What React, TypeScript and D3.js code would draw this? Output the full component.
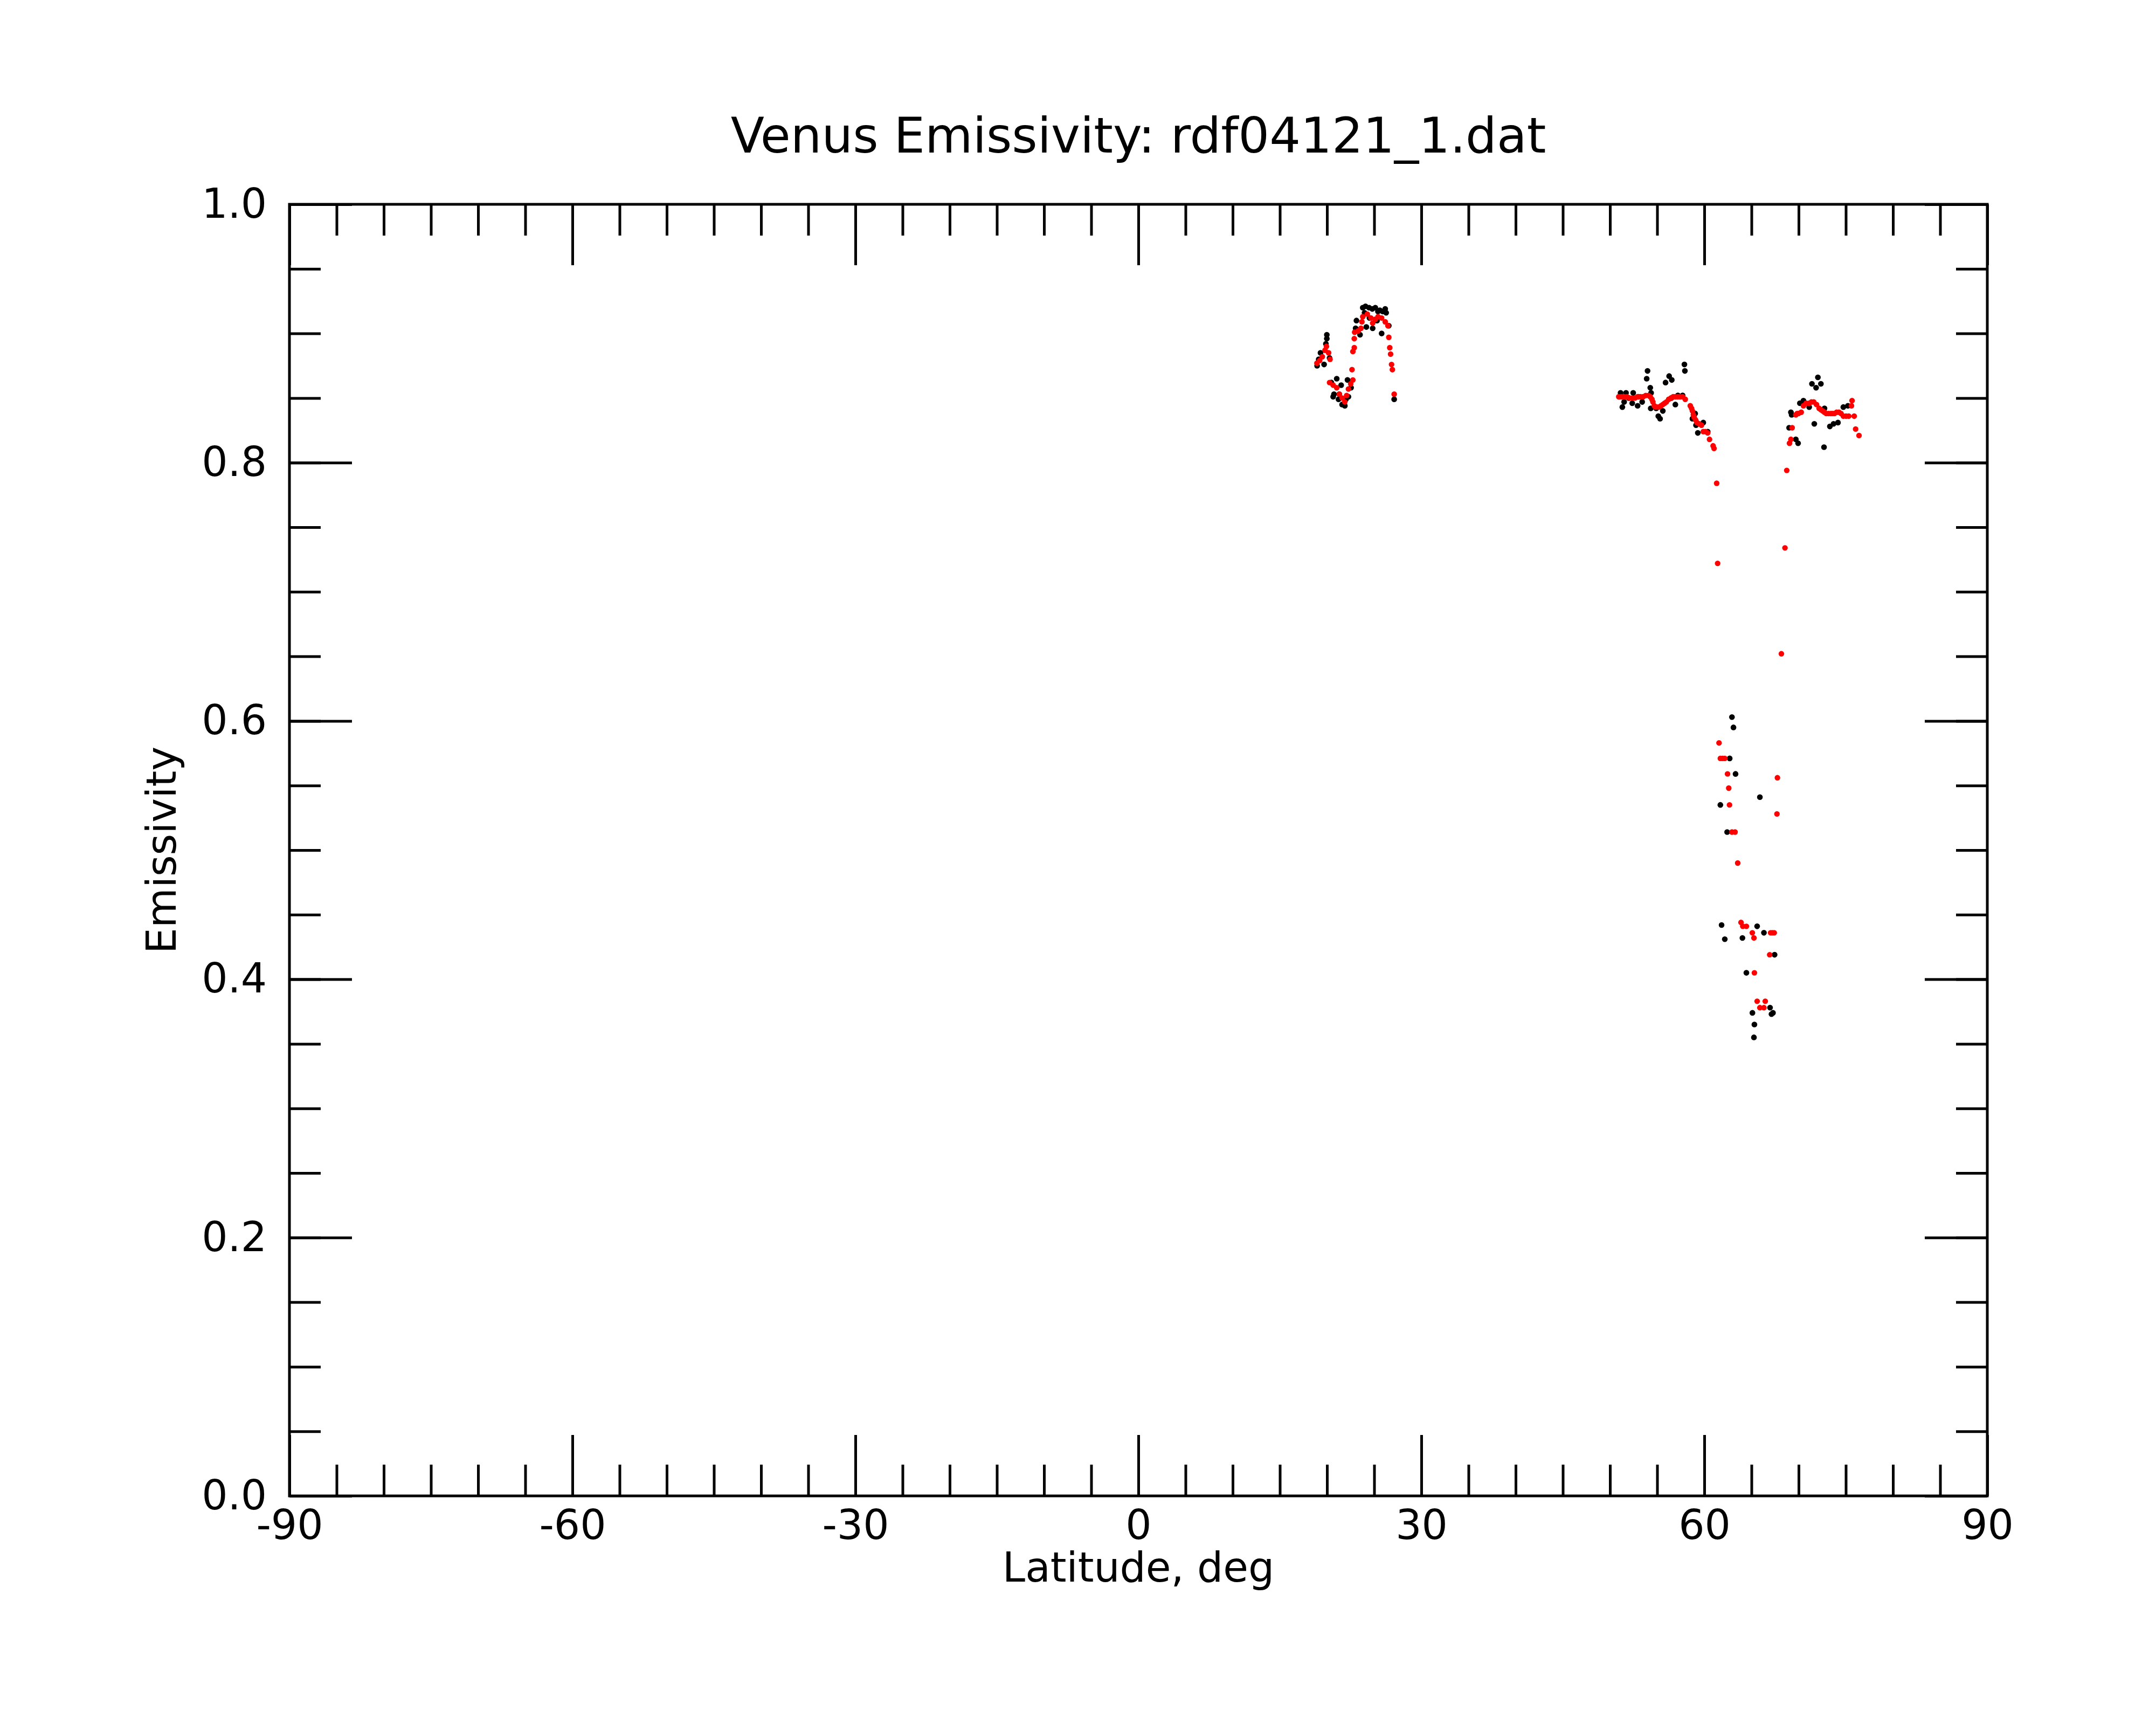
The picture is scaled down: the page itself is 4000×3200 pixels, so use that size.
import { useRef, useEffect } from 'react';
import * as d3 from 'd3';

// smoothed emissivity (red)
const fitLat = [
  18.93, 19.22, 19.5, 19.79, 19.94, 20.17, 20.32,
  20.27, 20.65, 21.03, 21.31, 21.6, 21.89, 22.08, 22.27, 22.51, 22.74,
  22.65, 22.74, 22.89, 22.89, 22.93, 23.31, 23.6, 23.7, 23.79, 24.27, 24.65, 24.84,
  25.12, 25.41, 25.79, 26.17, 26.46, 26.55, 26.65, 26.74, 26.84, 26.93, 27.12,
  50.93, 51.21, 51.5, 51.79, 52.08, 52.36, 52.65, 52.93, 53.22, 53.51, 53.79, 54.08,
  54.27, 54.45, 54.55, 54.7, 54.84, 55.03, 55.22, 55.41, 55.6, 55.79, 55.98, 56.22,
  56.46, 56.7, 56.93, 57.17, 57.41, 57.7, 57.98, 58.51, 58.65, 58.74, 58.84, 58.93,
  59.08, 59.22, 59.46, 59.7, 59.89, 60.12, 60.36, 60.55, 60.93, 61.03, 61.31, 61.41,
  61.56, 61.7, 61.93, 62.17, 62.46, 62.59, 62.67, 62.93, 63.26, 63.54,
  63.89, 64.08, 64.46, 65.09, 65.26, 65.31, 65.6, 65.89, 66.32, 66.46, 66.93,
  67.03, 67.22, 67.41, 67.7, 67.75, 68.17, 68.55, 68.74,
  69.03, 69.18, 69.31, 69.7, 69.84, 69.98, 70.27, 70.51, 70.8, 71.12, 71.36, 71.6,
  71.89, 72.17, 72.36, 72.55, 72.74, 72.93, 73.17, 73.41, 73.6, 73.79, 74.03, 74.27,
  74.5, 74.74, 75.03, 75.31, 75.6, 75.66, 75.89, 76.04, 76.4,
];
const fitEmis = [
  0.877, 0.879, 0.882, 0.887, 0.89, 0.885, 0.88,
  0.862, 0.86, 0.858, 0.853, 0.85, 0.847, 0.852, 0.857, 0.861, 0.864,
  0.872, 0.886, 0.889, 0.896, 0.901, 0.902, 0.904, 0.909, 0.913, 0.915, 0.912, 0.908,
  0.911, 0.913, 0.912, 0.909, 0.906, 0.897, 0.889, 0.884, 0.876, 0.872, 0.853,
  0.851, 0.851, 0.851, 0.851, 0.85, 0.85, 0.85, 0.851, 0.851, 0.851, 0.852, 0.852,
  0.851, 0.849, 0.847, 0.844, 0.843, 0.843, 0.843, 0.844, 0.845, 0.846, 0.847, 0.849,
  0.85, 0.851, 0.851, 0.851, 0.851, 0.851, 0.849, 0.844, 0.842, 0.84, 0.837, 0.835,
  0.833, 0.831, 0.83, 0.829, 0.824, 0.824, 0.823, 0.818, 0.813, 0.811, 0.784, 0.722,
  0.583, 0.571, 0.571, 0.571, 0.559, 0.548, 0.535, 0.514, 0.514, 0.49,
  0.444, 0.441, 0.441, 0.436, 0.432, 0.405, 0.383, 0.378, 0.378, 0.383, 0.419,
  0.436, 0.436, 0.436, 0.528, 0.556, 0.652, 0.734, 0.794,
  0.815, 0.818, 0.827, 0.837, 0.838, 0.838, 0.839, 0.844, 0.846, 0.846, 0.847, 0.847,
  0.845, 0.842, 0.841, 0.84, 0.839, 0.838, 0.838, 0.838, 0.838, 0.838, 0.839, 0.839,
  0.838, 0.836, 0.836, 0.836, 0.844, 0.848, 0.836, 0.826, 0.821,
];

// measured emissivity (black)
const rawLat = [
  18.95, 19.12, 19.31, 19.69, 19.88, 19.98, 19.98, 20.27, 20.46, 20.65, 20.74, 21.03,
  21.22, 21.3, 21.5, 21.6, 21.89, 22.0, 22.17, 22.27, 22.55, 23.03, 23.12, 23.5,
  23.79, 23.98, 24.08, 24.17, 24.46, 24.5, 24.8, 24.84, 25.12, 25.3, 25.4, 25.6,
  25.79, 25.9, 26.17, 26.27, 26.55, 27.12,
  51.0, 51.12, 51.31, 51.5, 51.7, 52.0, 52.36, 52.46, 52.93, 53.0, 53.41, 53.89,
  53.98, 54.27, 54.32, 54.36, 54.9, 55.12, 55.31, 55.6, 55.89, 56.27, 56.5, 56.55,
  56.93, 57.2, 57.7, 57.89, 57.94, 58.74, 59.03, 59.12, 59.31, 59.89, 60.36,
  61.7, 61.83, 62.17, 62.42, 62.69, 62.93, 63.09, 63.31, 64.04, 64.46, 65.1, 65.26,
  65.31, 65.6, 65.89, 66.32, 66.97, 67.12, 67.28, 67.45,
  68.99, 69.18, 69.26, 69.7, 69.94, 70.13, 70.51, 71.12, 71.41, 71.66, 71.85, 72.04,
  72.36, 72.69, 72.74, 73.31, 73.7, 74.17, 74.74, 75.22,
];
const rawEmis = [
  0.875, 0.88, 0.885, 0.876, 0.892, 0.899, 0.896, 0.881, 0.862, 0.851, 0.853, 0.865,
  0.849, 0.853, 0.86, 0.845, 0.844, 0.849, 0.864, 0.851, 0.858, 0.904, 0.91, 0.899,
  0.92, 0.916, 0.921, 0.905, 0.92, 0.912, 0.919, 0.904, 0.92, 0.91, 0.917, 0.918,
  0.9, 0.917, 0.919, 0.916, 0.906, 0.849,
  0.851, 0.854, 0.843, 0.847, 0.854, 0.85, 0.846, 0.854, 0.844, 0.851, 0.847, 0.865,
  0.871, 0.858, 0.842, 0.854, 0.842, 0.836, 0.834, 0.84, 0.862, 0.867, 0.85, 0.864,
  0.845, 0.852, 0.852, 0.876, 0.871, 0.834, 0.838, 0.829, 0.823, 0.831, 0.824,
  0.535, 0.442, 0.431, 0.514, 0.571, 0.603, 0.595, 0.559, 0.432, 0.405, 0.374, 0.355,
  0.365, 0.441, 0.541, 0.436, 0.378, 0.373, 0.374, 0.419,
  0.827, 0.839, 0.837, 0.818, 0.815, 0.846, 0.848, 0.843, 0.861, 0.83, 0.858, 0.866,
  0.861, 0.812, 0.842, 0.828, 0.83, 0.831, 0.843, 0.844,
];

const latTicks = [-90, -60, -30, 0, 30, 60, 90];
const latMinor = d3.range(-90, 90.001, 5);
const emisTicks = [0, 0.2, 0.4, 0.6, 0.8, 1.0];
const emisMinor = d3.range(0, 1.0001, 0.05);

const WIDTH = 4000;
const HEIGHT = 3200;
const FONT = '"DejaVu Sans", sans-serif';
const LABEL_SIZE = 76;

function EmissivityChart() {
  const ref = useRef<SVGSVGElement | null>(null);

  useEffect(() => {
    const svg = d3.select(ref.current);
    svg.selectAll('*').remove();

    const margin = { top: 379, right: 313, bottom: 425, left: 537 };
    const innerWidth = WIDTH - margin.left - margin.right;
    const innerHeight = HEIGHT - margin.top - margin.bottom;

    const x = d3.scaleLinear().domain([-90, 90]).range([0, innerWidth]);
    const y = d3.scaleLinear().domain([0, 1]).range([innerHeight, 0]);

    const g = svg.append('g').attr('transform', `translate(${margin.left},${margin.top})`);

    const styleAxis = (sel: d3.Selection<SVGGElement, unknown, null, undefined>) => {
      sel.select('.domain').remove();
      sel.selectAll('line').attr('stroke', '#000').attr('stroke-width', 5);
      sel.attr('font-family', FONT).attr('font-size', LABEL_SIZE);
      sel.selectAll('text').attr('fill', '#000');
    };

    // minor ticks
    g.append('g')
      .attr('transform', `translate(0,${innerHeight})`)
      .call(d3.axisBottom(x).tickValues(latMinor).tickSize(-58).tickFormat(() => ''))
      .call(styleAxis);
    g.append('g')
      .call(d3.axisTop(x).tickValues(latMinor).tickSize(-58).tickFormat(() => ''))
      .call(styleAxis);
    g.append('g')
      .call(d3.axisLeft(y).tickValues(emisMinor).tickSize(-58).tickFormat(() => ''))
      .call(styleAxis);
    g.append('g')
      .attr('transform', `translate(${innerWidth},0)`)
      .call(d3.axisRight(y).tickValues(emisMinor).tickSize(-58).tickFormat(() => ''))
      .call(styleAxis);

    // major ticks
    g.append('g')
      .attr('transform', `translate(0,${innerHeight})`)
      .call(
        d3.axisBottom(x).tickValues(latTicks).tickSize(-113).tickPadding(26)
          .tickFormat(d => String(d))
      )
      .call(styleAxis);
    g.append('g')
      .call(d3.axisTop(x).tickValues(latTicks).tickSize(-113).tickFormat(() => ''))
      .call(styleAxis);
    g.append('g')
      .call(
        d3.axisLeft(y).tickValues(emisTicks).tickSize(-116).tickPadding(42)
          .tickFormat(d => (d as number).toFixed(1))
      )
      .call(styleAxis);
    g.append('g')
      .attr('transform', `translate(${innerWidth},0)`)
      .call(d3.axisRight(y).tickValues(emisTicks).tickSize(-116).tickFormat(() => ''))
      .call(styleAxis);

    // frame
    g.append('rect')
      .attr('width', innerWidth)
      .attr('height', innerHeight)
      .attr('fill', 'none')
      .attr('stroke', '#000')
      .attr('stroke-width', 5);

    // points: raw first, smoothed on top
    g.append('g')
      .selectAll('circle')
      .data(d3.range(rawLat.length))
      .join('circle')
      .attr('cx', i => x(rawLat[i]))
      .attr('cy', i => y(rawEmis[i]))
      .attr('r', 5.3)
      .attr('fill', '#000');

    g.append('g')
      .selectAll('circle')
      .data(d3.range(fitLat.length))
      .join('circle')
      .attr('cx', i => x(fitLat[i]))
      .attr('cy', i => y(fitEmis[i]))
      .attr('r', 5.2)
      .attr('fill', '#ff0000');

    // labels
    svg.append('text')
      .attr('x', margin.left + innerWidth / 2)
      .attr('y', 283)
      .attr('text-anchor', 'middle')
      .attr('font-family', FONT)
      .attr('font-size', 91)
      .text('Venus Emissivity: rdf04121_1.dat');

    svg.append('text')
      .attr('x', margin.left + innerWidth / 2)
      .attr('y', 2934)
      .attr('text-anchor', 'middle')
      .attr('font-family', FONT)
      .attr('font-size', LABEL_SIZE)
      .text('Latitude, deg');

    svg.append('text')
      .attr('transform', `translate(326,${margin.top + innerHeight / 2}) rotate(-90)`)
      .attr('text-anchor', 'middle')
      .attr('font-family', FONT)
      .attr('font-size', LABEL_SIZE)
      .text('Emissivity');
  }, []);

  return (
    <svg
      ref={ref}
      width={WIDTH}
      height={HEIGHT}
      style={{ position: 'absolute', left: 0, top: 0, background: '#fff' }}
    ></svg>
  );
}

export default function App() {
  return <EmissivityChart />;
}
